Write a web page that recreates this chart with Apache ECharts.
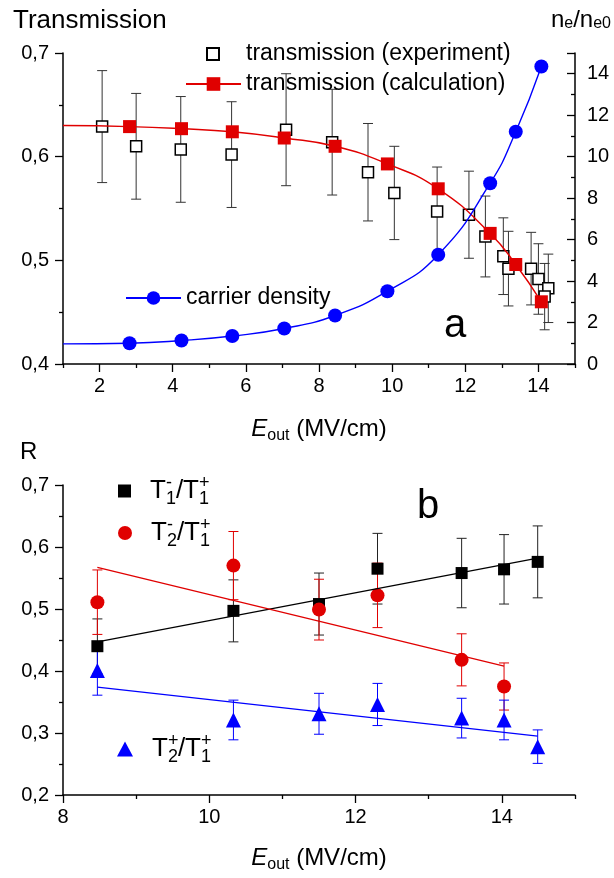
<!DOCTYPE html>
<html><head><meta charset="utf-8">
<script src="https://cdn.jsdelivr.net/npm/echarts@6/dist/echarts.min.js"></script>
<style>html,body{margin:0;padding:0;background:#fff}#c{width:614px;height:878px}</style>
</head><body><div id="c"></div>
<script>
// ---------- Panel a ----------
const expX   = [2.07, 3.00, 4.22, 5.61, 7.10, 8.36, 9.34, 10.06, 11.23, 12.10, 12.55, 13.04, 13.18, 13.80, 14.00, 14.27, 14.17];
const expY   = [0.629, 0.610, 0.607, 0.602, 0.626, 0.614, 0.585, 0.565, 0.547, 0.544, 0.523, 0.504, 0.492, 0.492, 0.482, 0.473, 0.465];
const expErr = [0.054, 0.051, 0.051, 0.051, 0.054, 0.051, 0.047, 0.045, 0.043, 0.042, 0.039, 0.037, 0.036, 0.035, 0.034, 0.033, 0.032];
const calcX  = [2.82, 4.24, 5.63, 7.05, 8.44, 9.87, 11.26, 12.68, 13.38, 14.08];
const calcY  = [0.629, 0.627, 0.624, 0.618, 0.610, 0.593, 0.569, 0.526, 0.496, 0.460];
const calcCurveStart = [1, 0.630];
const densX  = [2.82, 4.24, 5.63, 7.05, 8.44, 9.87, 11.26, 12.68, 13.38, 14.08];
const densY  = [1.00, 1.13, 1.35, 1.71, 2.34, 3.51, 5.27, 8.72, 11.2, 14.35];
const densCurveStart = [1, 0.97];
const aXTicks = [2, 4, 6, 8, 10, 12, 14];
const aXMinor = [1, 3, 5, 7, 9, 11, 13, 15];

// ---------- Panel b ----------
const bX      = [8.47, 10.33, 11.50, 12.30, 13.45, 14.03, 14.49];
const r11Y    = [0.440, 0.497, 0.508, 0.565, 0.558, 0.564, 0.576];
const r11Err  = [0.044, 0.050, 0.050, 0.057, 0.056, 0.056, 0.058];
const r21mX   = [8.47, 10.33, 11.50, 12.30, 13.45, 14.03];
const r21mY   = [0.511, 0.570, 0.499, 0.522, 0.418, 0.375];
const r21mErr = [0.052, 0.055, 0.049, 0.052, 0.042, 0.038];
const r21pY   = [0.401, 0.321, 0.331, 0.346, 0.324, 0.321, 0.278];
const r21pErr = [0.040, 0.032, 0.033, 0.034, 0.032, 0.032, 0.027];
const fit11X  = [8.47, 14.49], fit11Y  = [0.447, 0.582];
const fit21mX = [8.47, 14.03], fit21mY = [0.567, 0.408];
const fit21pX = [8.47, 14.49], fit21pY = [0.374, 0.295];
const bXTicks = [8, 10, 12, 14];
const bXMinor = [9, 11, 13, 15];

const FF = '"Liberation Sans", Arial, sans-serif';
const RED = '#e00000', BLUE = '#0000ff';
const comma = v => v.toFixed(1).replace('.', ',');
const pts = (xs, ys) => xs.map((x, i) => [x, ys[i]]);

function errBars(xs, ys, errs, color, cap, xi, yi) {
  return {
    type: 'custom', xAxisIndex: xi, yAxisIndex: yi, z: 1, silent: true,
    data: xs.map((x, i) => [x, ys[i] - errs[i], ys[i] + errs[i]]),
    encode: { x: 0, y: [1, 2] },
    renderItem: (params, api) => {
      const lo = api.coord([api.value(0), api.value(1)]);
      const hi = api.coord([api.value(0), api.value(2)]);
      const s = { stroke: color, lineWidth: 1 };
      return { type: 'group', children: [
        { type: 'line', shape: { x1: lo[0], y1: lo[1], x2: hi[0], y2: hi[1] }, style: s },
        { type: 'line', shape: { x1: lo[0] - cap, y1: lo[1], x2: lo[0] + cap, y2: lo[1] }, style: s },
        { type: 'line', shape: { x1: hi[0] - cap, y1: hi[1], x2: hi[0] + cap, y2: hi[1] }, style: s }
      ]};
    }
  };
}

const axLine = { show: true, lineStyle: { color: '#000', width: 1.5 } };
const lbl = { color: '#000', fontSize: 20, fontFamily: FF };
const titleRich = {
  i: { fontStyle: 'italic', fontSize: 24, fontFamily: FF, color: '#000', lineHeight: 30 },
  s: { fontSize: 16, fontFamily: FF, color: '#000', verticalAlign: 'bottom', lineHeight: 16 },
  n: { fontSize: 24, fontFamily: FF, color: '#000', lineHeight: 30 }
};
const xName = '{i|E}{s|out}{n| (MV/cm)}';

const legRich = {
  n: { fontSize: 26, fontFamily: FF, color: '#000', lineHeight: 34 },
  s: { fontSize: 18, fontFamily: FF, color: '#000', verticalAlign: 'bottom', lineHeight: 17 },
  p: { fontSize: 18, fontFamily: FF, color: '#000', verticalAlign: 'top', lineHeight: 15, width: 0 }
};
const legNames = {
  'T1-/T1+': '{n|T}{p|-}{s|1}{n|/T}{p|+}{s|1}',
  'T2-/T1+': '{n|T}{p|-}{s|2}{n|/T}{p|+}{s|1}',
  'T2+/T1+': '{n|T}{p|+}{s|2}{n|/T}{p|+}{s|1}'
};
const legTxt = { fontSize: 23, fontFamily: FF, color: '#000', lineHeight: 24 };

const chart = echarts.init(document.getElementById('c'), null, { renderer: 'canvas' });
chart.setOption({
  animation: false,
  backgroundColor: '#fff',
  grid: [
    { left: 63, top: 53, width: 512, height: 311 },
    { left: 63, top: 485, width: 512, height: 310 }
  ],
  xAxis: [
    { gridIndex: 0, type: 'value', min: 1, max: 15, position: 'bottom', axisLine: axLine,
      axisTick: { customValues: aXTicks, length: 8, lineStyle: { color: '#000', width: 1.3 } },
      axisLabel: { customValues: aXTicks, margin: 12, ...lbl }, splitLine: { show: false },
      name: xName, nameLocation: 'middle', nameGap: 50, nameTextStyle: { rich: titleRich } },
    { gridIndex: 0, type: 'value', min: 1, max: 15, position: 'bottom', axisLine: { show: false },
      axisTick: { customValues: aXMinor, length: 4, lineStyle: { color: '#000', width: 1.3 } },
      axisLabel: { show: false }, splitLine: { show: false } },
    { gridIndex: 1, type: 'value', min: 8, max: 15, position: 'bottom', axisLine: axLine,
      axisTick: { customValues: bXTicks, length: 8, lineStyle: { color: '#000', width: 1.3 } },
      axisLabel: { customValues: bXTicks, margin: 12, ...lbl }, splitLine: { show: false },
      name: xName, nameLocation: 'middle', nameGap: 48, nameTextStyle: { rich: titleRich } },
    { gridIndex: 1, type: 'value', min: 8, max: 15, position: 'bottom', axisLine: { show: false },
      axisTick: { customValues: bXMinor, length: 4, lineStyle: { color: '#000', width: 1.3 } },
      axisLabel: { show: false }, splitLine: { show: false } }
  ],
  yAxis: [
    { gridIndex: 0, type: 'value', min: 0.4, max: 0.7, interval: 0.1, position: 'left', axisLine: axLine,
      axisTick: { length: 8, lineStyle: { color: '#000', width: 1.3 } },
      minorTick: { show: true, splitNumber: 2, length: 4, lineStyle: { color: '#000', width: 1.3 } },
      axisLabel: { formatter: comma, margin: 14, ...lbl }, splitLine: { show: false } },
    { gridIndex: 0, type: 'value', min: 0, max: 15, interval: 2, position: 'right', axisLine: axLine,
      axisTick: { inside: true, length: 8, lineStyle: { color: '#000', width: 1.3 } },
      minorTick: { show: true, splitNumber: 2, length: 4, lineStyle: { color: '#000', width: 1.3 } },
      axisLabel: { margin: 12, showMaxLabel: false, ...lbl }, splitLine: { show: false } },
    { gridIndex: 1, type: 'value', min: 0.2, max: 0.7, interval: 0.1, position: 'left', axisLine: axLine,
      axisTick: { length: 8, lineStyle: { color: '#000', width: 1.3 } },
      minorTick: { show: true, splitNumber: 2, length: 4, lineStyle: { color: '#000', width: 1.3 } },
      axisLabel: { formatter: comma, margin: 14, ...lbl }, splitLine: { show: false } }
  ],
  legend: [
    { orient: 'vertical', left: 201, top: 37, itemWidth: 12, itemHeight: 12,
      textStyle: { ...legTxt, padding: [0, 0, 0, 22] }, data: ['transmission (experiment)'] },
    { orient: 'vertical', left: 180, top: 67, itemWidth: 55, itemHeight: 17,
      textStyle: legTxt, data: ['transmission (calculation)'] },
    { orient: 'vertical', left: 120, top: 281, itemWidth: 55, itemHeight: 17,
      textStyle: legTxt, data: ['carrier density'] },
    { orient: 'vertical', left: 113, top: 469, itemWidth: 13, itemHeight: 13,
      formatter: n => legNames[n], textStyle: { padding: [0, 0, 0, 14], rich: legRich },
      data: ['T1-/T1+'] },
    { orient: 'vertical', left: 113, top: 511, itemWidth: 14, itemHeight: 14,
      formatter: n => legNames[n], textStyle: { padding: [0, 0, 0, 14], rich: legRich },
      data: ['T2-/T1+'] },
    { orient: 'vertical', left: 112, top: 727, itemWidth: 16, itemHeight: 15,
      formatter: n => legNames[n], textStyle: { padding: [0, 0, 0, 14], rich: legRich },
      data: ['T2+/T1+'] }
  ],
  graphic: [
    { type: 'text', left: 13, top: 8, style: { text: 'Transmission', font: '26px ' + FF, fill: '#000' } },
    { type: 'text', right: 3, top: 8, style: { text: 'n{s|e}/n{s|e0}', font: '24px ' + FF, fill: '#000',
        rich: { s: { fontSize: 16, fontFamily: FF, fill: '#000', verticalAlign: 'bottom', lineHeight: 16 } } } },
    { type: 'text', left: 444, top: 306, style: { text: 'a', font: '40px ' + FF, fill: '#000' } },
    { type: 'text', left: 417, top: 487, style: { text: 'b', font: '40px ' + FF, fill: '#000' } },
    { type: 'text', left: 20, top: 440, style: { text: 'R', font: '24px ' + FF, fill: '#000' } }
  ],
  series: [
    errBars(expX, expY, expErr, '#333', 5, 0, 0),
    { name: 'transmission (experiment)', type: 'scatter', xAxisIndex: 0, yAxisIndex: 0, z: 2,
      symbol: 'rect', symbolSize: 11, itemStyle: { color: '#fff', borderColor: '#000', borderWidth: 1.5, opacity: 1 },
      data: pts(expX, expY) },
    { name: 'transmission (calculation)', type: 'line', xAxisIndex: 0, yAxisIndex: 0, z: 3,
      smooth: 0.5, symbol: 'rect', symbolSize: 13, showSymbol: true,
      itemStyle: { color: RED }, lineStyle: { color: RED, width: 1.4 },
      data: [{ value: calcCurveStart, symbol: 'none' }].concat(pts(calcX, calcY)) },
    { name: 'carrier density', type: 'line', xAxisIndex: 0, yAxisIndex: 1, z: 3,
      smooth: 0.5, symbol: 'circle', symbolSize: 14, showSymbol: true,
      itemStyle: { color: BLUE }, lineStyle: { color: BLUE, width: 1.4 },
      data: [{ value: densCurveStart, symbol: 'none' }].concat(pts(densX, densY)) },

    errBars(bX, r11Y, r11Err, '#222', 5, 2, 2),
    errBars(r21mX, r21mY, r21mErr, RED, 5, 2, 2),
    errBars(bX, r21pY, r21pErr, BLUE, 5, 2, 2),
    { name: 'T1-/T1+', type: 'scatter', xAxisIndex: 2, yAxisIndex: 2, z: 2, symbol: 'rect', symbolSize: 12,
      itemStyle: { color: '#000', opacity: 1 }, data: pts(bX, r11Y) },
    { name: 'T2-/T1+', type: 'scatter', xAxisIndex: 2, yAxisIndex: 2, z: 2, symbol: 'circle', symbolSize: 14,
      itemStyle: { color: RED, opacity: 1 }, data: pts(r21mX, r21mY) },
    { name: 'T2+/T1+', type: 'scatter', xAxisIndex: 2, yAxisIndex: 2, z: 2, symbol: 'triangle', symbolSize: 15,
      itemStyle: { color: BLUE, opacity: 1 }, data: pts(bX, r21pY) },
    { name: 'fit1', type: 'line', xAxisIndex: 2, yAxisIndex: 2, z: 3, symbol: 'none',
      lineStyle: { color: '#000', width: 1.3 }, data: pts(fit11X, fit11Y) },
    { name: 'fit2', type: 'line', xAxisIndex: 2, yAxisIndex: 2, z: 3, symbol: 'none',
      lineStyle: { color: RED, width: 1.3 }, data: pts(fit21mX, fit21mY) },
    { name: 'fit3', type: 'line', xAxisIndex: 2, yAxisIndex: 2, z: 3, symbol: 'none',
      lineStyle: { color: BLUE, width: 1.3 }, data: pts(fit21pX, fit21pY) }
  ]
});
</script></body></html>
